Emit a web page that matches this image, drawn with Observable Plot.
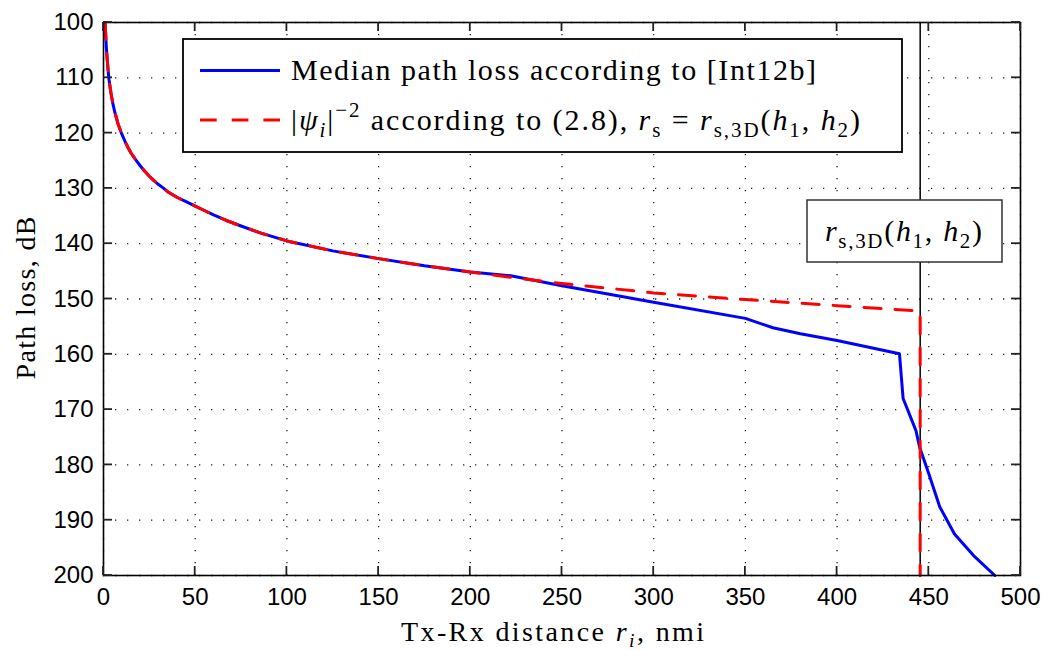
<!DOCTYPE html>
<html><head><meta charset="utf-8">
<script src="https://cdn.jsdelivr.net/npm/d3@7"></script>
<script src="https://cdn.jsdelivr.net/npm/@observablehq/plot@0.6"></script>
<style>html,body{margin:0;padding:0;background:#fff}svg{display:block}</style>
</head><body><div id="chart"></div>
<script>
// ---- data ----
const medianX = [0.8, 1, 1.5, 2, 2.5, 3, 4, 5, 6, 8, 10, 12, 13.5, 15, 17.5, 20, 22.5, 25, 27.5, 30, 32.5, 35, 37.5, 40, 45, 50, 55, 60, 67, 75, 85, 100, 125, 150, 175, 200, 222, 250, 300, 350, 365, 380, 400, 434, 436, 443, 445, 450, 456, 464, 475, 486];
const medianY = [100.0, 100.8, 104.2, 106.6, 108.6, 110.3, 112.6, 114.5, 116.0, 118.4, 120.2, 121.7, 122.7, 123.6, 124.8, 125.9, 126.9, 127.8, 128.6, 129.3, 129.9, 130.6, 131.1, 131.6, 132.4, 133.2, 134.0, 134.8, 135.8, 136.8, 138.0, 139.5, 141.3, 142.7, 144.0, 145.1, 145.8, 147.6, 150.6, 153.5, 155.2, 156.3, 157.5, 159.9, 168.0, 173.8, 176.8, 181.6, 187.6, 192.5, 196.6, 200];
const psiX = [0.8, 1, 1.5, 2, 2.5, 3, 4, 5, 6, 8, 10, 12, 13.5, 15, 17.5, 20, 22.5, 25, 27.5, 30, 32.5, 35, 37.5, 40, 45, 50, 55, 60, 67, 75, 85, 100, 125, 150, 175, 200, 225, 250, 300, 350, 400, 445.3, 445.3];
const psiY = [100.0, 100.8, 104.2, 106.6, 108.6, 110.3, 112.6, 114.5, 116.0, 118.4, 120.2, 121.7, 122.7, 123.6, 124.8, 125.9, 126.9, 127.8, 128.6, 129.3, 129.9, 130.6, 131.1, 131.6, 132.4, 133.2, 134.0, 134.8, 135.8, 136.8, 138.0, 139.5, 141.3, 142.7, 144.0, 145.1, 146.2, 147.2, 148.9, 150.1, 151.2, 152.2, 200];
const rs3D = [445.3];
const xTicks = [0, 50, 100, 150, 200, 250, 300, 350, 400, 450, 500];
const yTicks = [100, 110, 120, 130, 140, 150, 160, 170, 180, 190, 200];
const legendLabels = ["Median path loss according to [Int12b]", "|ψi|−2 according to (2.8), rs = rs,3D(h1, h2)"];

const median = medianX.map((x, i) => ({x, y: medianY[i]}));
const psi = psiX.map((x, i) => ({x, y: psiY[i]}));

const SERIF = "'Liberation Serif', 'Times New Roman', serif";
const gridStyle = {stroke: "#222", strokeOpacity: 1, strokeWidth: 1.3, strokeDasharray: "1.3,10.7"};

const chart = Plot.plot({
  width: 1043, height: 650,
  marginLeft: 103, marginRight: 23, marginTop: 22, marginBottom: 75,
  style: {background: "white", fontFamily: "'Liberation Sans', Arial, sans-serif", fontSize: "24px", color: "#000"},
  x: {domain: [0, 500], label: null},
  y: {domain: [100, 200], reverse: true, label: null},
  marks: [
    Plot.gridX(xTicks, gridStyle),
    Plot.gridY(yTicks, gridStyle),
    Plot.ruleX(rs3D, {stroke: "black", strokeWidth: 1.5}),
    Plot.line(median, {x: "x", y: "y", stroke: "#0000ff", strokeWidth: 3, strokeLinejoin: "round"}),
    Plot.line(psi, {x: "x", y: "y", stroke: "#ff0000", strokeWidth: 3, strokeDasharray: "17,14"}),
    Plot.axisX(xTicks, {tickSize: 0, tickPadding: 12, fontSize: 24, label: null}),
    Plot.axisY(yTicks, {tickSize: 0, tickPadding: 10, fontSize: 24, label: null}),
    Plot.frame({stroke: "black", strokeWidth: 1.6})
  ]
});
document.getElementById("chart").appendChild(chart);

const svg = d3.select(chart);
const sx = chart.scale("x"), sy = chart.scale("y");
const X0 = sx.apply(0), X1 = sx.apply(500), Y0 = sy.apply(100), Y1 = sy.apply(200);

// inward MATLAB-style ticks on all four sides
const tg = svg.append("g").attr("stroke", "#222").attr("stroke-width", 1.8);
for (const t of xTicks) {
  const px = sx.apply(t);
  tg.append("line").attr("x1", px).attr("x2", px).attr("y1", Y1).attr("y2", Y1 - 9);
  tg.append("line").attr("x1", px).attr("x2", px).attr("y1", Y0).attr("y2", Y0 + 9);
}
for (const t of yTicks) {
  const py = sy.apply(t);
  tg.append("line").attr("y1", py).attr("y2", py).attr("x1", X0).attr("x2", X0 + 9);
  tg.append("line").attr("y1", py).attr("y2", py).attr("x1", X1).attr("x2", X1 - 9);
}

// math text helper
function mathText(parent, x, y, fs, parts, opts = {}) {
  const t = parent.append("text").attr("x", x).attr("y", y)
    .attr("font-family", SERIF).attr("font-size", fs).attr("fill", "#000")
    .attr("text-anchor", opts.anchor || "start");
  if (opts.length) t.attr("textLength", opts.length).attr("lengthAdjust", "spacing");
  if (opts.transform) t.attr("transform", opts.transform);
  let cur = 0;
  for (const [s, kind] of parts) {
    let off = 0, size = fs, ital = false;
    if (kind.includes("sub")) { off = 0.22 * fs; size = 0.7 * fs; }
    if (kind.includes("sup")) { off = -0.42 * fs; size = 0.7 * fs; }
    if (kind.includes("i")) ital = true;
    t.append("tspan").attr("dy", off - cur).attr("font-size", size)
      .attr("font-style", ital ? "italic" : "normal").text(s);
    cur = off;
  }
  return t;
}

// legend
const lg = svg.append("g");
lg.append("rect").attr("x", 183).attr("y", 39).attr("width", 719).attr("height", 113)
  .attr("fill", "white").attr("stroke", "black").attr("stroke-width", 1.8);
lg.append("line").attr("x1", 200).attr("x2", 280).attr("y1", 70.5).attr("y2", 70.5)
  .attr("stroke", "#0000ff").attr("stroke-width", 3);
lg.append("line").attr("x1", 200).attr("x2", 280).attr("y1", 120).attr("y2", 120)
  .attr("stroke", "#ff0000").attr("stroke-width", 3).attr("stroke-dasharray", "16.7,15");
mathText(lg, 291, 80, 30, [[legendLabels[0], "n"]], {length: 525});
mathText(lg, 291, 130, 30, [
  ["|", "n"], ["ψ", "i"], ["i", "subi"], ["|", "n"], ["−2", "sup"],
  [" according to (2.8), ", "n"], ["r", "i"], ["s", "sub"], [" = ", "n"],
  ["r", "i"], ["s,3D", "sub"], ["(", "n"], ["h", "i"], ["1", "sub"], [", ", "n"],
  ["h", "i"], ["2", "sub"], [")", "n"]
], {length: 569});

// annotation box
const ab = svg.append("g");
ab.append("rect").attr("x", 807).attr("y", 200).attr("width", 195).attr("height", 62)
  .attr("fill", "white").attr("stroke", "#333").attr("stroke-width", 1.5);
mathText(ab, 825, 241, 30, [
  ["r", "i"], ["s,3D", "sub"], ["(", "n"], ["h", "i"], ["1", "sub"], [", ", "n"],
  ["h", "i"], ["2", "sub"], [")", "n"]
], {length: 157});

// axis titles
mathText(svg, 401, 641, 28, [["Tx-Rx distance ", "n"], ["r", "i"], ["i", "subi"], [", nmi", "n"]], {length: 303});
mathText(svg, 0, 0, 28, [["Path loss, dB", "n"]], {anchor: "middle", length: 163, transform: "translate(35,298) rotate(-90)"});
</script>
</body></html>
